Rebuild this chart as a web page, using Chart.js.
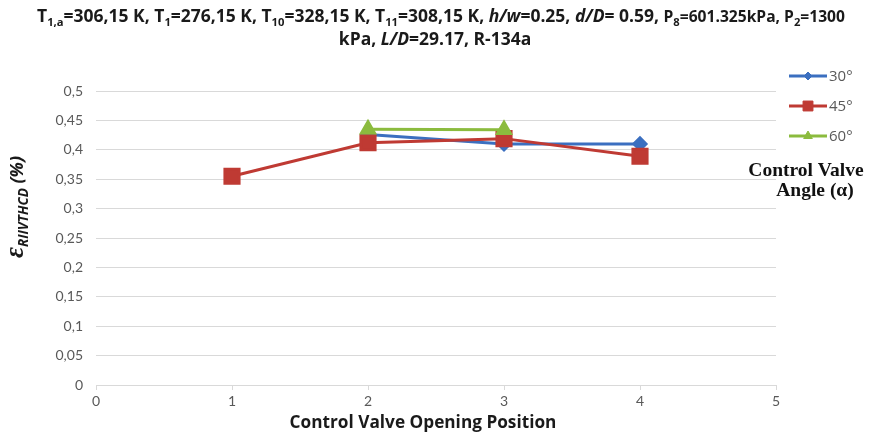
<!DOCTYPE html>
<html>
<head>
<meta charset="utf-8">
<script src="https://cdn.jsdelivr.net/npm/chart.js@4/dist/chart.umd.min.js"></script>
<style>
  html, body { margin: 0; padding: 0; background: #fff; }
  canvas { display: block; }
</style>
</head>
<body>
<canvas id="c" width="869" height="435"></canvas>
<script>
// Control valve opening positions (x) and effectiveness values (y) per valve angle
const pos30 = [2, 3, 4];
const eff30 = [0.426, 0.410, 0.410];
const pos45 = [1, 2, 3, 4];
const eff45 = [0.355, 0.412, 0.419, 0.389];
const pos60 = [2, 3];
const eff60 = [0.435, 0.434];
const seriesNames = ['30°', '45°', '60°'];
const xTicks = [0, 1, 2, 3, 4, 5];
const yTicks = [0, 0.05, 0.1, 0.15, 0.2, 0.25, 0.3, 0.35, 0.4, 0.45, 0.5];

const BLUE = '#3b6fc0', RED = '#bf3a33', GREEN = '#8bbb3e';
const TICK = '#595959', GRID = '#d9d9d9';

const toPts = (xs, ys) => xs.map((x, i) => ({ x, y: ys[i] }));
const fmtComma = v => String(parseFloat(Number(v).toFixed(2))).replace('.', ',');

// Mixed-font text runs. Each piece: text, style prefix, size, family, baseline shift.
function fontOf(s, k) { return s.st + ' ' + (s.sz * k).toFixed(2) + 'px ' + s.fam; }
function runWidth(ctx, segs, k) {
  let w = 0;
  segs.forEach(s => { ctx.font = fontOf(s, k); w += ctx.measureText(s.t).width; });
  return w;
}
function drawRich(ctx, segs, cx, y, k) {
  const total = runWidth(ctx, segs, k);
  let x = cx - total / 2;
  ctx.textAlign = 'left';
  ctx.textBaseline = 'alphabetic';
  segs.forEach(s => {
    ctx.font = fontOf(s, k);
    ctx.fillText(s.t, x, y + (s.dy || 0) * k);
    x += ctx.measureText(s.t).width;
  });
}

const SANS = '"Open Sans", Lato, sans-serif';
const b = t => ({ t, st: 'bold', sz: 14, fam: SANS });
const bi = t => ({ t, st: 'italic bold', sz: 14, fam: SANS });
const sm = t => ({ t, st: 'bold', sz: 12.5, fam: SANS });
const sub = t => ({ t, st: 'bold', sz: 9, fam: SANS, dy: 3 });

const titleLine1 = [
  b('T'), sub('1,a'), b('=306,15 K, T'), sub('1'), b('=276,15 K, T'), sub('10'),
  b('=328,15 K, T'), sub('11'), b('=308,15 K, '), bi('h/w'), b('=0.25, '),
  bi('d/D'), b('= 0.59, '), sm('P'), sub('8'), sm('=601.325kPa, P'), sub('2'), sm('=1300')
];
const titleLine2 = [b('kPa, '), bi('L/D'), b('=29.17, '), b('R-134a')];
const yTitle = [
  { t: 'ε', st: 'italic bold', sz: 27, fam: '"Liberation Serif", serif' },
  { t: 'RIIVTHCD', st: 'italic bold', sz: 13.5, fam: SANS, dy: 5 },
  { t: ' (%)', st: 'italic bold', sz: 18, fam: SANS }
];
const xTitle = [{ t: 'Control Valve Opening Position', st: 'bold', sz: 16, fam: SANS }];

const decor = {
  id: 'decor',
  afterDraw(chart) {
    const ctx = chart.ctx;
    ctx.save();
    ctx.fillStyle = '#1a1a1a';

    // two-line heading, sized so the first line spans the page width
    const k = 808 / runWidth(ctx, titleLine1, 1);
    drawRich(ctx, titleLine1, 441, 22, k);
    drawRich(ctx, titleLine2, 435, 45, k);

    // x axis title
    drawRich(ctx, xTitle, 423, 428, 267 / runWidth(ctx, xTitle, 1));

    // y axis title, rotated
    ctx.save();
    ctx.translate(23, 207);
    ctx.rotate(-Math.PI / 2);
    drawRich(ctx, yTitle, 0, 0, 1);
    ctx.restore();

    // legend: line with marker, then label
    const rows = [76, 106, 136];
    chart.data.datasets.forEach((ds, i) => {
      const y = rows[i];
      ctx.strokeStyle = ds.borderColor;
      ctx.lineWidth = 3;
      ctx.beginPath(); ctx.moveTo(789, y); ctx.lineTo(827, y); ctx.stroke();
      ctx.fillStyle = ds.borderColor;
      ctx.lineWidth = 1;
      Chart.helpers.drawPoint(ctx, { pointStyle: ds.pointStyle, radius: ds.legendRadius, borderWidth: 1 }, 808, y);
      ctx.fillStyle = TICK;
      ctx.font = '15px ' + SANS;
      ctx.textAlign = 'left';
      ctx.textBaseline = 'middle';
      ctx.fillText(seriesNames[i], 829, y + 1);
    });

    ctx.fillStyle = '#111';
    ctx.font = 'bold 19.5px "Liberation Serif", serif';
    ctx.textAlign = 'center';
    ctx.textBaseline = 'middle';
    ctx.fillText('Control Valve', 806, 171);
    ctx.fillText('Angle (α)', 815, 191);
    ctx.restore();
  }
};

new Chart(document.getElementById('c'), {
  type: 'line',
  data: {
    datasets: [
      { label: seriesNames[0], data: toPts(pos30, eff30), borderColor: BLUE, backgroundColor: BLUE,
        pointStyle: 'rectRot', pointRadius: 6, legendRadius: 4, borderWidth: 3, order: 3 },
      { label: seriesNames[1], data: toPts(pos45, eff45), borderColor: RED, backgroundColor: RED,
        pointStyle: 'rect', pointRadius: 10, legendRadius: 7, borderWidth: 3, order: 2 },
      { label: seriesNames[2], data: toPts(pos60, eff60), borderColor: GREEN, backgroundColor: GREEN,
        pointStyle: 'triangle', pointRadius: 7.5, legendRadius: 5, borderWidth: 3, order: 1 }
    ]
  },
  options: {
    responsive: false,
    animation: false,
    devicePixelRatio: 1,
    layout: { padding: { top: 91, right: 93, bottom: 0, left: 0 } },
    elements: { line: { tension: 0 }, point: { borderWidth: 1 } },
    plugins: { legend: { display: false }, tooltip: { enabled: false }, title: { display: false } },
    scales: {
      x: {
        type: 'linear', min: 0, max: 5,
        afterBuildTicks: s => { s.ticks = xTicks.map(v => ({ value: v })); },
        ticks: { color: TICK, font: { family: 'Lato', size: 14 }, padding: 3, maxRotation: 0 },
        grid: { drawOnChartArea: false, drawTicks: true, tickLength: 5, color: GRID },
        border: { display: true, color: GRID, width: 1 },
        afterFit: s => { s.height = 50; }
      },
      y: {
        min: 0, max: 0.5,
        afterBuildTicks: s => { s.ticks = yTicks.map(v => ({ value: v })); },
        ticks: { color: TICK, font: { family: 'Lato', size: 14 }, padding: 13, callback: v => fmtComma(v) },
        grid: { color: GRID, drawTicks: false },
        border: { display: false },
        afterFit: s => { s.width = 96; }
      }
    }
  },
  plugins: [decor]
});
</script>
</body>
</html>
